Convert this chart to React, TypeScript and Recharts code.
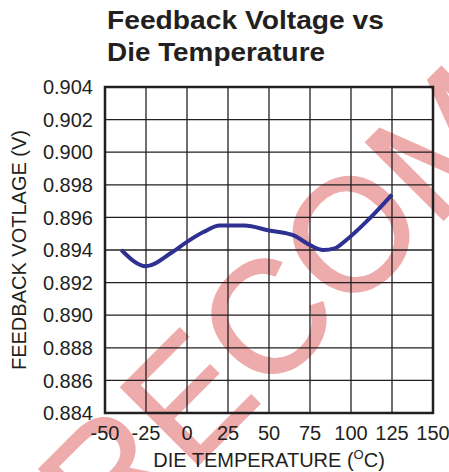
import React from 'react';
import { LineChart, Line, XAxis, YAxis, CartesianGrid, ReferenceArea } from 'recharts';

const temps = [-40, -25, -10, 0, 10, 20, 35, 50, 65, 75, 83, 90, 97, 110, 125];
const volts = [0.894, 0.893, 0.8938, 0.8945, 0.8951, 0.8955, 0.8955, 0.8952, 0.8949, 0.8943, 0.894, 0.8941, 0.8946, 0.8958, 0.8974];
const xTicks = [-50, -25, 0, 25, 50, 75, 100, 125, 150];
const yTicks = [0.884, 0.886, 0.888, 0.89, 0.892, 0.894, 0.896, 0.898, 0.9, 0.902, 0.904];
const titleLines = ['Feedback Voltage vs', 'Die Temperature'];
const watermark = 'RECOMMENDED';

const W = 449;
const H = 472;
const FONT = '"Liberation Sans", Arial, Helvetica, sans-serif';
const INK = '#231f20';

const data = temps.map((t, i) => ({ t, v: volts[i] }));

function XLabel({ viewBox }: any) {
  const cx = viewBox.x + viewBox.width / 2;
  return (
    <text x={cx} y={467} textAnchor="middle" fontSize={20} fontFamily={FONT} fill={INK}>
      DIE TEMPERATURE (<tspan fontSize={13} dy={-8}>O</tspan>
      <tspan dy={8}>C)</tspan>
    </text>
  );
}

function YLabel({ viewBox }: any) {
  const cy = viewBox.y + viewBox.height / 2;
  return (
    <text
      x={19}
      y={cy}
      transform={`rotate(-90 19 ${cy})`}
      textAnchor="middle"
      dominantBaseline="central"
      fontSize={20}
      fontFamily={FONT}
      fill={INK}
    >
      FEEDBACK VOTLAGE (V)
    </text>
  );
}

export default function App() {
  return (
    <div style={{ position: 'absolute', left: 0, top: 0, width: W, height: H, background: '#fff', overflow: 'hidden' }}>
      {/* watermark sits under the chart */}
      <svg width={W} height={H} style={{ position: 'absolute', left: 0, top: 0 }}>
        <text
          x={107.5}
          y={556}
          transform="rotate(-45 107.5 556)"
          fontSize={160}
          fontFamily={FONT}
          fill="#eeabab"
          stroke="#eeabab"
          strokeWidth={1.5}
        >
          {watermark}
        </text>
      </svg>
      <svg width={W} height={80} style={{ position: 'absolute', left: 0, top: 0 }}>
        <text x={107} y={28.5} fontSize={25} fontWeight="bold" fontFamily={FONT} fill={INK} textLength={277} lengthAdjust="spacingAndGlyphs">
          {titleLines[0]}
        </text>
        <text x={107} y={61} fontSize={25} fontWeight="bold" fontFamily={FONT} fill={INK} textLength={218} lengthAdjust="spacingAndGlyphs">
          {titleLines[1]}
        </text>
      </svg>
      <div style={{ position: 'absolute', left: 0, top: 0 }}>
        <LineChart width={W} height={H} data={data} margin={{ top: 87, right: 16, bottom: 0, left: 0 }}>
          <CartesianGrid stroke={INK} strokeWidth={1.3} />
          <XAxis
            dataKey="t"
            type="number"
            domain={[-50, 150]}
            ticks={xTicks}
            interval={0}
            axisLine={false}
            tickLine={false}
            tickSize={0}
            tickMargin={13}
            tick={{ fontSize: 20, fontFamily: FONT, fill: INK }}
            height={59}
            label={<XLabel />}
          />
          <YAxis
            type="number"
            domain={[0.884, 0.904]}
            ticks={yTicks}
            interval={0}
            axisLine={false}
            tickLine={false}
            tickSize={0}
            tickMargin={12}
            width={105}
            tickFormatter={(v: number) => v.toFixed(3)}
            tick={{ fontSize: 20, fontFamily: FONT, fill: INK }}
            label={<YLabel />}
          />
          <ReferenceArea x1={-50} x2={150} y1={0.884} y2={0.904} fill="none" stroke={INK} strokeWidth={2.5} />
          <Line
            type="monotone"
            dataKey="v"
            stroke="#2e3192"
            strokeWidth={4}
            dot={false}
            isAnimationActive={false}
          />
        </LineChart>
      </div>
    </div>
  );
}
